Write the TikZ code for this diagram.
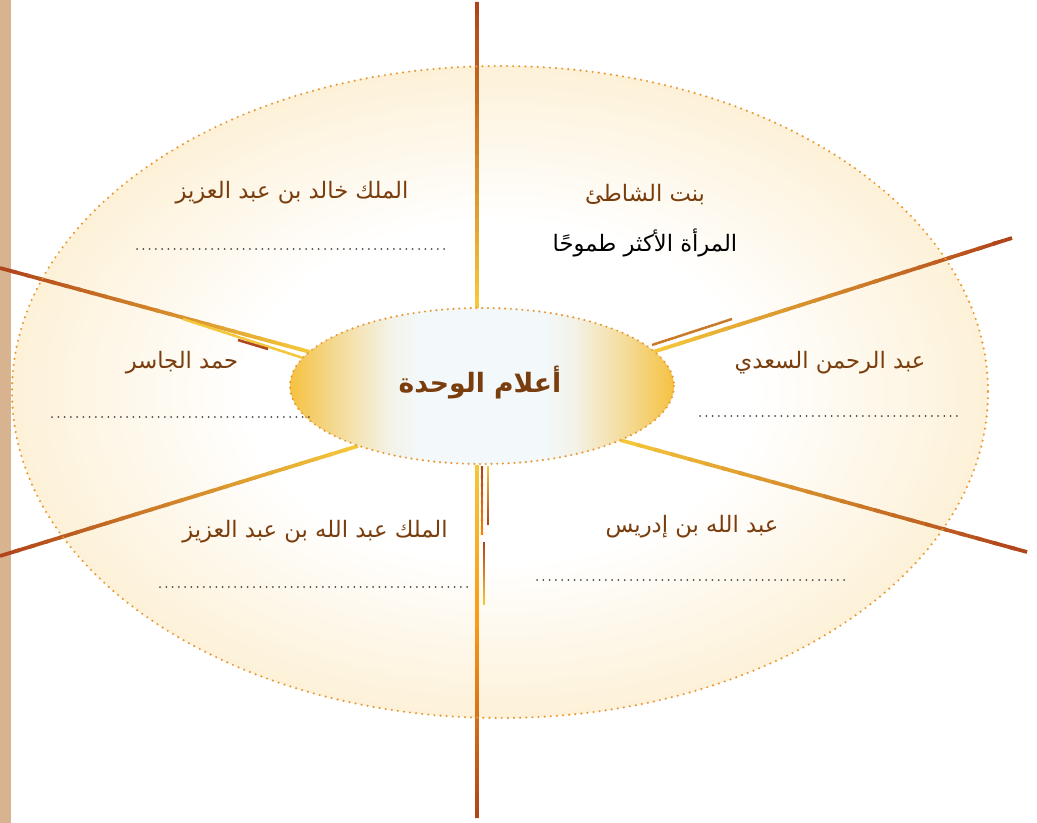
\documentclass[tikz,border=0pt]{standalone}
\usepackage{fontspec}
\usetikzlibrary{shapes.geometric,calc}
\TeXXeTstate=1
\newfontfamily\arabicfont[Script=Arabic]{DejaVu Sans}
\definecolor{strip}{HTML}{D8B390}
\definecolor{spbrown}{HTML}{B0441A}
\definecolor{spgold}{HTML}{F4C63A}
\definecolor{dotorange}{HTML}{E89A35}
\definecolor{cream}{HTML}{FDF1D8}
\definecolor{inwhite}{HTML}{F3F8FB}
\definecolor{ingold}{HTML}{F5C140}
\definecolor{namebrown}{HTML}{7A3E0E}
\definecolor{dotgray}{HTML}{4A4A4A}
\pgfdeclareradialshading{outerglow}{\pgfpoint{0bp}{0bp}}{color(0bp)=(white); color(13bp)=(white); color(25bp)=(cream); color(50bp)=(cream)}
\pgfdeclarehorizontalshading{innerglow}{100bp}{color(0bp)=(ingold); color(25bp)=(ingold); color(31bp)=(ingold!55!inwhite); color(38bp)=(inwhite!90!ingold); color(42bp)=(inwhite); color(58bp)=(inwhite); color(62bp)=(inwhite!90!ingold); color(69bp)=(ingold!55!inwhite); color(75bp)=(ingold); color(100bp)=(ingold)}
\newcommand{\gradspoke}[5]{%
  \foreach \i in {0,...,23}{%
    \pgfmathtruncatemacro\pp{100-\i*100/23}%
    \draw[spoke, line width=#5, color=#3!\pp!#4] ($(#1)!\i/24!(#2)$) -- ($(#1)!{min((\i+1.3)/24,1)}!(#2)$);
  }}
\begin{document}
\begin{tikzpicture}[x=0.75pt,y=-0.75pt,
  spoke/.style={line cap=butt},
  namelbl/.style={font=\arabicfont\fontsize{17}{20}\selectfont, text=namebrown, inner sep=0pt},
  sublbl/.style={font=\arabicfont\fontsize{17}{20}\selectfont, text=black, inner sep=0pt},
  blank/.style={dotgray, line width=1.5pt, line cap=round, dash pattern=on 0pt off 4.7pt}]
\useasboundingbox (0,0) rectangle (1037,823);
\fill[white] (0,0) rectangle (1037,823);
\fill[strip] (0,0) rectangle (11,823);
% outer ellipse
\node[ellipse, minimum width=732pt, minimum height=489pt, inner sep=0pt, shading=outerglow] (outer) at (500,392) {};
% coordinates of spokes
\coordinate (vt1) at (477,2);
\coordinate (vt2) at (477,308);
\coordinate (vb1) at (477,465);
\coordinate (vbm) at (477,620);
\coordinate (vb2) at (477,818);
\coordinate (ula) at (0,268);
\coordinate (ulb) at (310,352);
\coordinate (ulc) at (183,319);
\coordinate (uld) at (303,358);
\coordinate (ule) at (238,340);
\coordinate (ulf) at (268,349);
\coordinate (lla) at (0,556);
\coordinate (llb) at (358,446);
\coordinate (ura) at (1012,238);
\coordinate (urb) at (653,352);
\coordinate (urc) at (732,319);
\coordinate (urd) at (652,345);
\coordinate (ure) at (993,243);
\coordinate (urf) at (1010,239);
\coordinate (lra) at (620,440);
\coordinate (lrb) at (1027,552);
\coordinate (s1a) at (482,466);
\coordinate (s1b) at (482,535);
\coordinate (s2a) at (488,466);
\coordinate (s2b) at (488,525);
\coordinate (s3a) at (484,542);
\coordinate (s3b) at (484,605);
% spokes
\gradspoke{vt1}{vt2}{spbrown}{spgold}{2.8pt}
\gradspoke{vb1}{vbm}{spgold}{orange!60!spgold}{2.8pt}
\gradspoke{vbm}{vb2}{orange!60!spgold}{spbrown}{2.8pt}
\gradspoke{s1a}{s1b}{spbrown}{orange}{1.8pt}
\gradspoke{s2a}{s2b}{spgold}{spbrown}{1.8pt}
\gradspoke{s3a}{s3b}{spbrown}{spgold}{1.8pt}
\gradspoke{ula}{ulb}{spbrown}{spgold}{2.8pt}
\gradspoke{ulc}{uld}{spgold}{spgold}{1.8pt}
\gradspoke{ule}{ulf}{spbrown}{spbrown}{1.8pt}
\gradspoke{lla}{llb}{spbrown}{spgold}{2.8pt}
\gradspoke{ura}{urb}{spbrown}{spgold}{2.8pt}
\gradspoke{urd}{urc}{spbrown}{spbrown!60!spgold}{1.8pt}
\gradspoke{ure}{urf}{spbrown}{spbrown}{1.8pt}
\gradspoke{lra}{lrb}{spgold}{spbrown}{2.8pt}
% outer border
\draw[dotorange, line width=1.8pt, line cap=round, dash pattern=on 0pt off 4.6pt] (outer.center) ellipse [x radius=488, y radius=326];
% inner ellipse
\node[ellipse, minimum width=288pt, minimum height=117pt, inner sep=0pt, shading=innerglow] (inner) at (482,386) {};
\draw[dotorange, line width=1.8pt, line cap=round, dash pattern=on 0pt off 4.3pt] (inner.center) ellipse [x radius=192, y radius=78];
\node[font=\arabicfont\bfseries\fontsize{20}{24}\selectfont, text=namebrown, inner sep=0pt] (title) at (480,383) {\beginR أعلام الوحدة\endR};
% labels
\node[namelbl] (n1) at (292,193) {\beginR الملك خالد بن عبد العزيز\endR};
\node[namelbl] (n2) at (645,195) {\beginR بنت الشاطئ\endR};
\node[sublbl] (n2b) at (645,243) {\beginR المرأة الأكثر طموحًا\endR};
\node[namelbl] (n3) at (182,363) {\beginR حمد الجاسر\endR};
\node[namelbl] (n4) at (830,363) {\beginR عبد الرحمن السعدي\endR};
\node[namelbl] (n5) at (315,532) {\beginR الملك عبد الله بن عبد العزيز\endR};
\node[namelbl] (n6) at (692,527) {\beginR عبد الله بن إدريس\endR};
% answer lines
\coordinate (d1a) at (137,249); \coordinate (d1b) at (448,249);
\coordinate (d3a) at (52,417); \coordinate (d3b) at (314,417);
\coordinate (d4a) at (700,416); \coordinate (d4b) at (962,416);
\coordinate (d5a) at (160,587); \coordinate (d5b) at (472,587);
\coordinate (d6a) at (537,580); \coordinate (d6b) at (848,580);
\draw[blank] (d1a) -- (d1b);
\draw[blank] (d3a) -- (d3b);
\draw[blank] (d4a) -- (d4b);
\draw[blank] (d5a) -- (d5b);
\draw[blank] (d6a) -- (d6b);
\end{tikzpicture}
\end{document}
